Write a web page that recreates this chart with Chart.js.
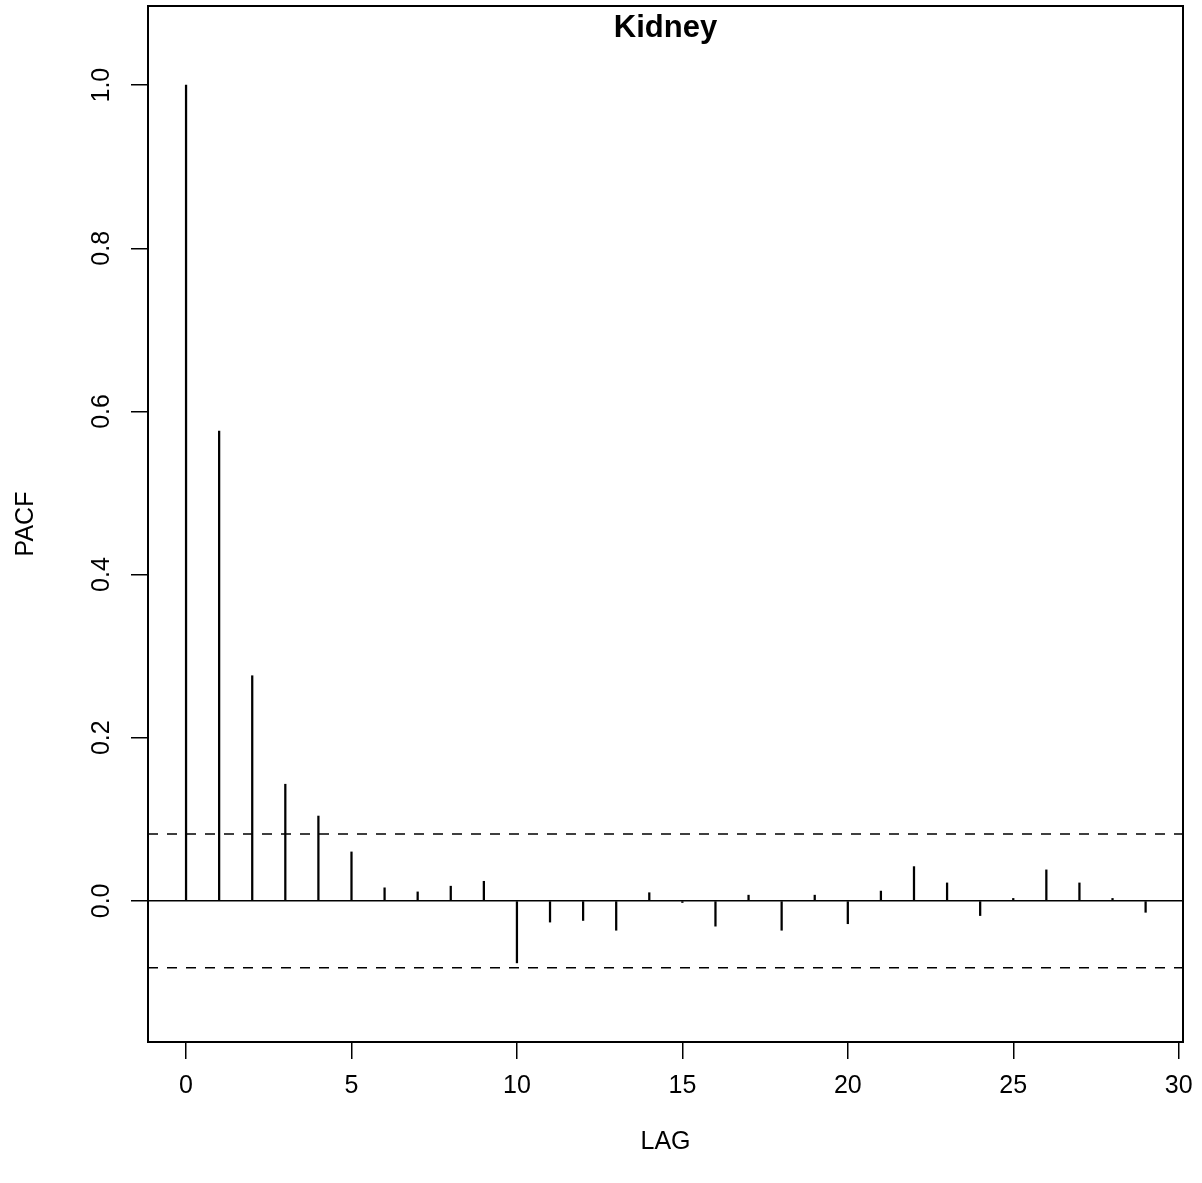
<!DOCTYPE html>
<html>
<head>
<meta charset="utf-8">
<title>Kidney PACF</title>
<script src="https://cdn.jsdelivr.net/npm/chart.js@4/dist/chart.umd.min.js"></script>
<style>
  html, body { margin: 0; padding: 0; background: #fff; }
  #chartWrapper { width: 1202px; height: 1183px; }
</style>
</head>
<body>
<div id="chartWrapper"><canvas id="pacfChart" width="1202" height="1183"></canvas></div>
<script>
// lags and partial autocorrelations
const lags = [0, 1, 2, 3, 4, 5, 6, 7, 8, 9, 10, 11, 12, 13, 14, 15, 16, 17, 18, 19, 20, 21, 22, 23, 24, 25, 26, 27, 28, 29];
const pacfValues = [1.0, 0.576, 0.276, 0.143, 0.104, 0.060, 0.016, 0.011, 0.018, 0.024,
  -0.076, -0.026, -0.024, -0.036, 0.010, -0.002, -0.031, 0.007, -0.036, 0.007,
  -0.028, 0.012, 0.042, 0.022, -0.018, 0.003, 0.038, 0.022, 0.003, -0.014];
const ciBound = 0.082;

const xTicks = [0, 5, 10, 15, 20, 25, 30];
const yTicks = [0, 0.2, 0.4, 0.6, 0.8, 1.0];
const xRange = [-1.15, 30.13];
const yRange = [-0.173, 1.097];

const FONT = "'Liberation Sans', Arial, Helvetica, sans-serif";

// R-style box round the plotting region
const boxPlugin = {
  id: 'box',
  afterDraw(chart) {
    const { ctx, chartArea } = chart;
    ctx.save();
    ctx.strokeStyle = '#000';
    ctx.lineWidth = 2;
    ctx.strokeRect(chartArea.left, chartArea.top, chartArea.right - chartArea.left, chartArea.bottom - chartArea.top);
    ctx.restore();
  },
};

const config = {
  type: 'bar',
  data: {
    datasets: [
      {
        label: 'PACF',
        data: lags.map((lag, i) => ({ x: lag, y: pacfValues[i] })),
        backgroundColor: '#000',
        borderWidth: 0,
        barThickness: 1.6,
        grouped: false,
        order: 2,
      },
      {
        type: 'line',
        label: 'upper bound',
        data: xRange.map((x) => ({ x, y: ciBound })),
        borderColor: '#000',
        borderWidth: 1.5,
        borderDash: [10, 9],
        pointRadius: 0,
        fill: false,
        order: 1,
      },
      {
        type: 'line',
        label: 'lower bound',
        data: xRange.map((x) => ({ x, y: -ciBound })),
        borderColor: '#000',
        borderWidth: 1.5,
        borderDash: [10, 9],
        pointRadius: 0,
        fill: false,
        order: 1,
      },
    ],
  },
  options: {
    responsive: false,
    animation: false,
    devicePixelRatio: 1,
    layout: { padding: { left: 0, right: 19, top: 0, bottom: 0 } },
    plugins: {
      legend: { display: false },
      tooltip: { enabled: false },
      title: {
        display: true,
        text: 'Kidney',
        color: '#000',
        fullSize: false,
        font: { family: FONT, size: 31, weight: 'bold', lineHeight: 1.2 },
        padding: { top: 10, bottom: -41.2 },
      },
    },
    scales: {
      x: {
        type: 'linear',
        min: xRange[0],
        max: xRange[1],
        offset: false,
        border: { display: false },
        grid: {
          offset: false,
          drawOnChartArea: false,
          color: '#000',
          tickColor: '#000',
          tickLength: 17,
          lineWidth: 1.5,
        },
        afterBuildTicks: (scale) => {
          scale.ticks = xTicks.map((v) => ({ value: v }));
        },
        afterFit: (scale) => {
          scale.height = 141;
          scale.paddingLeft = 0;
          scale.paddingRight = 0;
        },
        ticks: {
          color: '#000',
          padding: 12,
          maxRotation: 0,
          autoSkip: false,
          font: { family: FONT, size: 25 },
          callback: (v) => String(v),
        },
        title: {
          display: true,
          text: 'LAG',
          color: '#000',
          font: { family: FONT, size: 25 },
          padding: { top: 0, bottom: 26 },
        },
      },
      y: {
        type: 'linear',
        min: yRange[0],
        max: yRange[1],
        border: { display: false },
        grid: {
          color: (ctx) => (ctx.tick && ctx.tick.value === 0 ? '#000' : 'rgba(0,0,0,0)'),
          tickColor: '#000',
          tickLength: 17,
          lineWidth: 1.5,
        },
        afterBuildTicks: (scale) => {
          scale.ticks = yTicks.map((v) => ({ value: v }));
        },
        afterFit: (scale) => {
          scale.width = 148;
          scale.paddingTop = 0;
          scale.paddingBottom = 0;
        },
        ticks: {
          color: '#000',
          padding: 12,
          minRotation: 90,
          maxRotation: 90,
          crossAlign: 'center',
          autoSkip: false,
          font: { family: FONT, size: 25 },
          callback: (v) => Number(v).toFixed(1),
        },
        title: {
          display: true,
          text: 'PACF',
          color: '#000',
          font: { family: FONT, size: 25 },
          padding: { top: 11, bottom: 0 },
        },
      },
    },
  },
  plugins: [boxPlugin],
};

const pacfChart = new Chart(document.getElementById('pacfChart'), config);
</script>
</body>
</html>
